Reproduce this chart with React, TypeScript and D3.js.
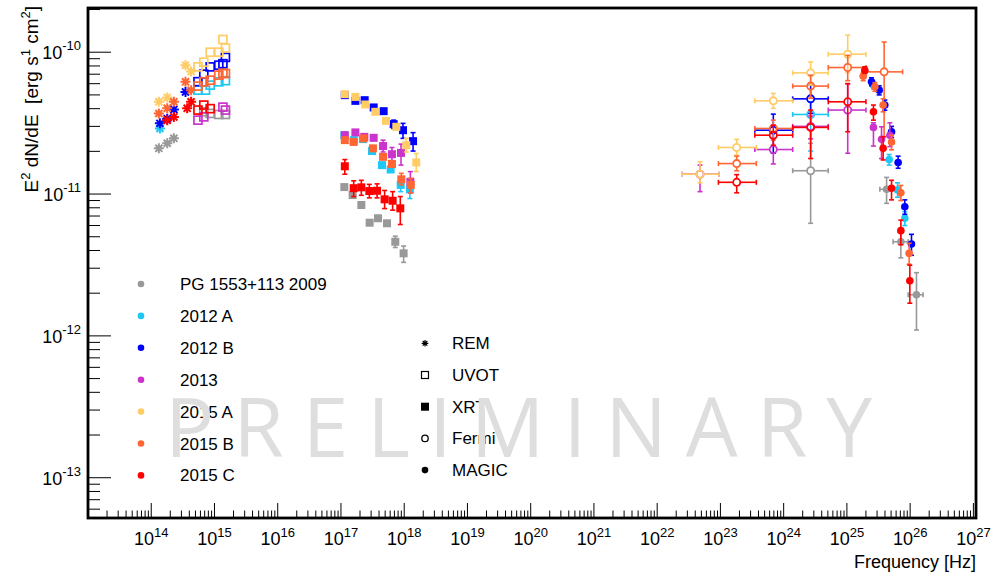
import React from "react";
import * as d3 from "d3";

// ---------- legend / series ----------
const seriesNames = ["PG 1553+113 2009", "2012 A", "2012 B", "2013", "2015 A", "2015 B", "2015 C"];
const seriesColors = ["#999999", "#1ec8f5", "#0000ff", "#cc33cc", "#ffcc66", "#ff6633", "#ff0000"];
const instrumentNames = ["REM", "UVOT", "XRT", "Fermi", "MAGIC"];

// ---------- axes ----------
const xDomain = [1e13, 1.1e27];
const yDomain = [5.2e-14, 2.05e-10];
const xMajorExps = [14, 15, 16, 17, 18, 19, 20, 21, 22, 23, 24, 25, 26, 27];
const yMajorExps = [-10, -11, -12, -13];
const xTitle = "Frequency [Hz]";
const watermarkText = "PRELIMINARY";

// ---------- data ----------
// REM: [series, frequency Hz, E2dN/dE]
const remPoints = [
  [0, 1.32e14, 2.1e-11], [0, 1.79e14, 2.28e-11], [0, 2.28e14, 2.47e-11],
  [1, 1.37e14, 2.9e-11],
  [2, 1.37e14, 3.15e-11], [2, 1.79e14, 3.4e-11], [2, 2.28e14, 3.95e-11], [2, 3.48e14, 5.25e-11],
  [4, 1.32e14, 4.47e-11], [4, 1.79e14, 4.8e-11], [4, 3.48e14, 8.1e-11], [4, 4.27e14, 7.3e-11],
  [5, 1.32e14, 3.7e-11], [5, 1.79e14, 4.02e-11], [5, 2.28e14, 4.47e-11], [5, 3.48e14, 6.18e-11], [5, 4.27e14, 5.4e-11],
  [6, 1.79e14, 3.32e-11], [6, 2.28e14, 3.5e-11], [6, 3.7e14, 4.02e-11], [6, 4.27e14, 4.47e-11],
];

// UVOT: [series, frequency, flux]
const uvotPoints = [
  [0, 6.78e14, 3.8e-11], [0, 8.55e14, 3.7e-11], [0, 1.17e15, 3.64e-11], [0, 1.49e15, 3.64e-11],
  [1, 5.48e14, 5.4e-11], [1, 7.21e14, 5.4e-11], [1, 8.55e14, 5.86e-11], [1, 1.17e15, 6.18e-11], [1, 1.49e15, 6.3e-11],
  [2, 5.48e14, 6.2e-11], [2, 6.78e14, 7.0e-11], [2, 8.55e14, 7.88e-11], [2, 1.17e15, 8.1e-11], [2, 1.36e15, 8.3e-11], [2, 1.49e15, 9.2e-11],
  [3, 5.48e14, 3.32e-11], [3, 6.78e14, 3.5e-11], [3, 1.36e15, 4.1e-11], [3, 1.49e15, 3.91e-11],
  [4, 5.48e14, 7.88e-11], [4, 6.78e14, 8.51e-11], [4, 8.55e14, 1.0e-10], [4, 1.17e15, 1.0e-10], [4, 1.36e15, 1.23e-10], [4, 1.49e15, 1.07e-10],
  [5, 5.48e14, 5.77e-11], [5, 6.78e14, 6.18e-11], [5, 8.55e14, 6.35e-11], [5, 1.17e15, 6.89e-11], [5, 1.36e15, 7.1e-11], [5, 1.49e15, 7.08e-11],
  [6, 5.48e14, 3.91e-11], [6, 6.78e14, 4.24e-11], [6, 8.55e14, 4.0e-11],
];

// XRT: [series, frequency, flux, low, high] (0 = no bar)
const xrtPoints = [
  [0, 1.13e17, 1.12e-11, 0, 0], [0, 1.53e17, 9.84e-12, 0, 0], [0, 2.1e17, 8.37e-12, 0, 0], [0, 2.84e17, 6.28e-12, 0, 0],
  [0, 3.85e17, 6.75e-12, 0, 0], [0, 5.35e17, 6.22e-12, 0, 0], [0, 7.23e17, 4.61e-12, 4.2e-12, 5.05e-12], [0, 9.79e17, 3.82e-12, 3.3e-12, 4.3e-12],
  [1, 1.13e17, 2.6e-11, 0, 0], [1, 1.59e17, 2.4e-11, 0, 0], [1, 2.22e17, 2.44e-11, 0, 0], [1, 3.1e17, 2.01e-11, 0, 0],
  [1, 4.45e17, 1.6e-11, 0, 0], [1, 6.1e17, 1.49e-11, 0, 0], [1, 8.8e17, 1.16e-11, 1.04e-11, 1.29e-11], [1, 1.23e18, 1.08e-11, 0.93e-11, 1.19e-11],
  [2, 1.15e17, 4.98e-11, 0, 0], [2, 1.69e17, 4.54e-11, 0, 0], [2, 2.37e17, 4.59e-11, 0, 0], [2, 3.29e17, 4.08e-11, 0, 0],
  [2, 4.73e17, 3.84e-11, 0, 0], [2, 6.81e17, 3.11e-11, 2.9e-11, 3.32e-11], [2, 9.57e17, 2.82e-11, 2.47e-11, 3.15e-11], [2, 1.38e18, 2.36e-11, 2.01e-11, 2.71e-11],
  [3, 1.15e17, 2.6e-11, 0, 0], [3, 1.69e17, 2.72e-11, 0, 0], [3, 2.34e17, 2.53e-11, 0, 0], [3, 3.29e17, 2.49e-11, 0, 0],
  [3, 4.63e17, 2.18e-11, 1.98e-11, 2.4e-11], [3, 6.4e17, 1.91e-11, 1.72e-11, 2.13e-11], [3, 8.9e17, 1.95e-11, 1.6e-11, 2.25e-11], [3, 1.25e18, 1.22e-11, 1.02e-11, 1.44e-11],
  [4, 1.15e17, 5.06e-11, 0, 0], [4, 1.69e17, 4.84e-11, 0, 0], [4, 2.43e17, 4.28e-11, 0, 0], [4, 3.49e17, 3.8e-11, 0, 0],
  [4, 5.15e17, 3.28e-11, 0, 0], [4, 7.5e17, 2.98e-11, 0, 0], [4, 1.08e18, 2.21e-11, 1.98e-11, 2.47e-11], [4, 1.55e18, 1.67e-11, 1.44e-11, 1.93e-11],
  [5, 1.15e17, 2.4e-11, 0, 0], [5, 1.59e17, 2.33e-11, 0, 0], [5, 2.28e17, 2.47e-11, 0, 0], [5, 3.2e17, 2.1e-11, 0, 0],
  [5, 4.63e17, 1.83e-11, 0, 0], [5, 6.4e17, 1.63e-11, 0, 0], [5, 9.0e17, 1.27e-11, 1.16e-11, 1.4e-11], [5, 1.27e18, 1.16e-11, 1.02e-11, 1.29e-11],
  [6, 1.15e17, 1.57e-11, 1.38e-11, 1.75e-11], [6, 1.59e17, 1.1e-11, 0.96e-11, 1.24e-11], [6, 2.1e17, 1.115e-11, 0.98e-11, 1.25e-11], [6, 2.81e17, 1.05e-11, 0.94e-11, 1.17e-11],
  [6, 3.72e17, 1.055e-11, 0.94e-11, 1.18e-11], [6, 4.9e17, 9.18e-12, 7.9e-12, 1.06e-11], [6, 6.56e17, 8.97e-12, 7.7e-12, 1.04e-11], [6, 8.67e17, 7.93e-12, 6.1e-12, 9.6e-12],
];

// Fermi: [series, fLow, f, fHigh, flux, low, high]
const fermiPoints = [
  [0, 1.39e24, 2.67e24, 5.07e24, 1.46e-11, 6.22e-12, 2.28e-11],
  [1, 1.39e24, 2.67e24, 5.07e24, 3.64e-11, 2.01e-11, 4.47e-11],
  [2, 3.5e23, 6.86e23, 1.39e24, 2.82e-11, 1.94e-11, 3.66e-11],
  [2, 1.39e24, 2.67e24, 5.07e24, 4.69e-11, 3.7e-11, 5.86e-11],
  [3, 2.45e22, 4.76e22, 9.5e22, 1.38e-11, 1.04e-11, 1.6e-11],
  [3, 3.5e23, 6.86e23, 1.39e24, 2.06e-11, 1.63e-11, 2.47e-11],
  [3, 1.39e24, 2.67e24, 5.07e24, 3.0e-11, 2.45e-11, 3.55e-11],
  [3, 5.07e24, 1.03e25, 2.0e25, 3.91e-11, 1.94e-11, 6.0e-11],
  [4, 2.45e22, 4.76e22, 9.5e22, 1.38e-11, 1.2e-11, 1.69e-11],
  [4, 9.3e22, 1.81e23, 3.7e23, 2.13e-11, 1.88e-11, 2.43e-11],
  [4, 3.5e23, 6.86e23, 1.39e24, 4.54e-11, 4.02e-11, 5.12e-11],
  [4, 1.39e24, 2.67e24, 5.07e24, 7.15e-11, 5.86e-11, 8.54e-11],
  [4, 5.07e24, 1.03e25, 2.0e25, 9.68e-11, 7.2e-11, 1.32e-10],
  [5, 9.3e22, 1.81e23, 3.7e23, 1.64e-11, 1.46e-11, 1.85e-11],
  [5, 3.5e23, 6.86e23, 1.39e24, 2.9e-11, 2.4e-11, 3.32e-11],
  [5, 1.39e24, 2.67e24, 5.07e24, 5.77e-11, 4.74e-11, 6.89e-11],
  [5, 5.07e24, 1.03e25, 2.0e25, 7.8e-11, 6.3e-11, 9.5e-11],
  [5, 2.05e25, 3.88e25, 7.6e25, 7.27e-11, 2.54e-11, 1.18e-10],
  [6, 9.3e22, 1.81e23, 3.7e23, 1.21e-11, 1.02e-11, 1.37e-11],
  [6, 3.5e23, 6.86e23, 1.39e24, 2.6e-11, 2.21e-11, 3.06e-11],
  [6, 1.39e24, 2.67e24, 5.07e24, 2.95e-11, 1.78e-11, 3.91e-11],
  [6, 5.07e24, 1.03e25, 2.0e25, 4.47e-11, 2.75e-11, 6.0e-11],
];

// MAGIC: [series, f, flux, low, high, fLow, fHigh] (0 = no x bar)
const magicPoints = [
  [0, 4.24e25, 1.08e-11, 8.6e-12, 1.31e-11, 3.32e25, 5.08e25],
  [0, 7.13e25, 4.61e-12, 3.55e-12, 5.33e-12, 5.38e25, 9.3e25],
  [0, 1.26e26, 1.95e-12, 1.1e-12, 2.79e-12, 9.3e25, 1.6e26],
  [1, 2.63e25, 5.86e-11, 5.5e-11, 6.2e-11, 0, 0],
  [1, 4.66e25, 1.75e-11, 1.6e-11, 1.9e-11, 0, 0],
  [1, 6.32e25, 1.07e-11, 0.95e-11, 1.2e-11, 0, 0],
  [1, 8.24e25, 6.75e-12, 6.0e-12, 7.5e-12, 0, 0],
  [2, 2.45e25, 6.18e-11, 5.8e-11, 6.6e-11, 0, 0],
  [2, 3.24e25, 5.4e-11, 5.0e-11, 5.8e-11, 0, 0],
  [2, 3.98e25, 4.24e-11, 3.9e-11, 4.6e-11, 0, 0],
  [2, 5.08e25, 2.75e-11, 2.5e-11, 3.0e-11, 0, 0],
  [2, 6.46e25, 1.67e-11, 1.52e-11, 1.85e-11, 0, 0],
  [2, 8.24e25, 8.14e-12, 7.2e-12, 9.1e-12, 0, 0],
  [2, 1.05e26, 4.45e-12, 3.7e-12, 5.2e-12, 0, 0],
  [3, 2.63e25, 2.95e-11, 2.18e-11, 3.18e-11, 0, 0],
  [3, 3.53e25, 2.43e-11, 1.78e-11, 2.98e-11, 0, 0],
  [3, 4.78e25, 2.6e-11, 2.16e-11, 3.18e-11, 0, 0],
  [5, 1.81e25, 6.78e-11, 6.3e-11, 7.2e-11, 0, 0],
  [5, 2.77e25, 5.7e-11, 5.3e-11, 6.1e-11, 0, 0],
  [5, 3.74e25, 4.24e-11, 3.8e-11, 4.7e-11, 0, 0],
  [5, 5.08e25, 2.33e-11, 2.05e-11, 2.6e-11, 0, 0],
  [5, 7.13e25, 1.02e-11, 0.9e-11, 1.15e-11, 0, 0],
  [5, 9.64e25, 3.82e-12, 3.2e-12, 4.5e-12, 0, 0],
  [6, 1.92e25, 7.47e-11, 7.1e-11, 7.9e-11, 0, 0],
  [6, 2.63e25, 3.8e-11, 3.32e-11, 4.24e-11, 0, 0],
  [6, 3.74e25, 2.1e-11, 1.74e-11, 2.53e-11, 0, 0],
  [6, 5.08e25, 1.1e-11, 0.91e-11, 1.25e-11, 0, 0],
  [6, 7.13e25, 5.52e-12, 4.39e-12, 6.55e-12, 0, 0],
  [6, 9.89e25, 2.45e-12, 1.7e-12, 3.15e-12, 0, 0],
];

const FONT = "'Liberation Sans', Arial, Helvetica, sans-serif";

function starPath(cx: number, cy: number, r: number) {
  const d = r * 0.707;
  return `M${cx - r},${cy}H${cx + r}M${cx},${cy - r}V${cy + r}M${cx - d},${cy - d}L${cx + d},${cy + d}M${cx - d},${cy + d}L${cx + d},${cy - d}`;
}

// vertical error bar with gap for marker and caps
function vBar(key: string, px: number, py: number, yLo: number, yHi: number, gap: number, color: string) {
  const out: any[] = [];
  const cap = 2.5;
  if (yLo > py + gap) {
    out.push(<line key={key + "vl"} x1={px} x2={px} y1={py + gap} y2={yLo} stroke={color} strokeWidth={1.6} />);
    out.push(<line key={key + "vlc"} x1={px - cap} x2={px + cap} y1={yLo} y2={yLo} stroke={color} strokeWidth={1.6} />);
  }
  if (yHi < py - gap) {
    out.push(<line key={key + "vh"} x1={px} x2={px} y1={py - gap} y2={yHi} stroke={color} strokeWidth={1.6} />);
    out.push(<line key={key + "vhc"} x1={px - cap} x2={px + cap} y1={yHi} y2={yHi} stroke={color} strokeWidth={1.6} />);
  }
  return out;
}
function hBar(key: string, px: number, py: number, xLo: number, xHi: number, gap: number, color: string) {
  const out: any[] = [];
  const cap = 2.5;
  if (xLo < px - gap) {
    out.push(<line key={key + "hl"} x1={px - gap} x2={xLo} y1={py} y2={py} stroke={color} strokeWidth={1.6} />);
    out.push(<line key={key + "hlc"} x1={xLo} x2={xLo} y1={py - cap} y2={py + cap} stroke={color} strokeWidth={1.6} />);
  }
  if (xHi > px + gap) {
    out.push(<line key={key + "hh"} x1={px + gap} x2={xHi} y1={py} y2={py} stroke={color} strokeWidth={1.6} />);
    out.push(<line key={key + "hhc"} x1={xHi} x2={xHi} y1={py - cap} y2={py + cap} stroke={color} strokeWidth={1.6} />);
  }
  return out;
}

export default function App() {
  const L = 88, R = 976, T = 8, B = 518;
  const x = d3.scaleLog().domain(xDomain).range([L, R]);
  const y = d3.scaleLog().domain(yDomain).range([B, T]);

  const xMinor: number[] = [];
  for (let e = 13; e < 27; e++) for (let k = 2; k <= 9; k++) {
    const v = k * Math.pow(10, e);
    if (v > xDomain[0] && v < xDomain[1]) xMinor.push(v);
  }
  const yMinor: number[] = [];
  for (let e = -14; e < -9; e++) for (let k = 2; k <= 9; k++) {
    const v = k * Math.pow(10, e);
    if (v > yDomain[0] && v < yDomain[1]) yMinor.push(v);
  }

  const bySeries = (a: any[], b: any[]) => a[0] - b[0];

  const remEls = [...remPoints].sort(bySeries).map((p, i) => (
    <path key={"rem" + i} d={starPath(x(p[1]), y(p[2]), 5)} stroke={seriesColors[p[0]]} strokeWidth={2} fill="none" />
  ));

  const uvotEls = [...uvotPoints].sort(bySeries).map((p, i) => (
    <rect key={"uv" + i} x={x(p[1]) - 4} y={y(p[2]) - 4} width={8} height={8} fill="none" stroke={seriesColors[p[0]]} strokeWidth={1.7} />
  ));

  const xrtEls: any[] = [];
  [...xrtPoints].sort(bySeries).forEach((p, i) => {
    const c = seriesColors[p[0]];
    const px = x(p[1]), py = y(p[2]);
    if (p[3] && p[4]) xrtEls.push(...vBar("x" + i, px, py, y(p[3]), y(p[4]), 0, c));
    xrtEls.push(<rect key={"xr" + i} x={px - 4} y={py - 4} width={8} height={8} fill={c} />);
  });

  const fermiEls: any[] = [];
  [...fermiPoints].sort(bySeries).forEach((p, i) => {
    const c = seriesColors[p[0]];
    const px = x(p[2]), py = y(p[4]);
    fermiEls.push(...hBar("f" + i, px, py, x(p[1]), x(p[3]), 4, c));
    fermiEls.push(...vBar("f" + i, px, py, y(p[5]), y(p[6]), 4, c));
    fermiEls.push(<circle key={"fc" + i} cx={px} cy={py} r={3.6} fill="none" stroke={c} strokeWidth={1.8} />);
  });

  const magicEls: any[] = [];
  [...magicPoints].sort(bySeries).forEach((p, i) => {
    const c = seriesColors[p[0]];
    const px = x(p[1]), py = y(p[2]);
    if (p[5] && p[6]) magicEls.push(...hBar("m" + i, px, py, x(p[5]), x(p[6]), 0, c));
    magicEls.push(...vBar("m" + i, px, py, y(p[3]), y(p[4]), 0, c));
    magicEls.push(<circle key={"mc" + i} cx={px} cy={py} r={3.8} fill={c} />);
  });

  const leg1Y0 = 284, leg1Dy = 31.9;
  const leg2Y0 = 343.3, leg2Dy = 31.7;
  const lx2 = 425;

  const legendMarker = (idx: number, cy: number) => {
    const c = "#000";
    if (idx === 0) return <path d={starPath(lx2, cy, 3.3)} stroke={c} strokeWidth={1.2} fill="none" />;
    if (idx === 1) return <rect x={lx2 - 3.5} y={cy - 3.5} width={7} height={7} fill="none" stroke={c} strokeWidth={1.2} />;
    if (idx === 2) return <rect x={lx2 - 4} y={cy - 4} width={8} height={8} fill={c} />;
    if (idx === 3) return <circle cx={lx2} cy={cy} r={3.2} fill="none" stroke={c} strokeWidth={1.3} />;
    return <circle cx={lx2} cy={cy} r={3.3} fill={c} />;
  };

  return (
    <svg width={1000} height={574} style={{ position: "absolute", left: 0, top: 0, background: "#fff" }} fontFamily={FONT}>
      <rect x={0} y={0} width={1000} height={574} fill="#fff" />

      {/* ticks */}
      {xMajorExps.map((e) => (
        <line key={"xM" + e} x1={x(Math.pow(10, e))} x2={x(Math.pow(10, e))} y1={B} y2={B - 15} stroke="#000" strokeWidth={1} />
      ))}
      {xMinor.map((v, i) => (
        <line key={"xm" + i} x1={x(v)} x2={x(v)} y1={B} y2={B - 7.5} stroke="#000" strokeWidth={1} />
      ))}
      {yMajorExps.map((e) => (
        <line key={"yM" + e} x1={L} x2={L + 23} y1={y(Math.pow(10, e))} y2={y(Math.pow(10, e))} stroke="#000" strokeWidth={1} />
      ))}
      {yMinor.map((v, i) => (
        <line key={"ym" + i} x1={L} x2={L + 12} y1={y(v)} y2={y(v)} stroke="#000" strokeWidth={1} />
      ))}

      {/* tick labels */}
      {xMajorExps.map((e) => (
        <text key={"xl" + e} x={x(Math.pow(10, e))} y={545} textAnchor="middle" fontSize={18} fill="#000">
          10<tspan dy={-8} fontSize={13}>{e}</tspan>
        </text>
      ))}
      {yMajorExps.map((e) => (
        <text key={"yl" + e} x={81} y={y(Math.pow(10, e)) + 7} textAnchor="end" fontSize={18} fill="#000">
          10<tspan dy={-9} fontSize={13}>{e}</tspan>
        </text>
      ))}

      {/* axis titles */}
      <text x={976} y={568} textAnchor="end" fontSize={18} fill="#000">{xTitle}</text>
      <text transform="translate(38,6) rotate(-90)" textAnchor="end" fontSize={19} fill="#000" style={{ whiteSpace: "pre" }}>
        E<tspan dy={-8} fontSize={13}>2</tspan><tspan dy={8}> dN/dE  [erg s</tspan><tspan dy={-8} fontSize={13}>1</tspan><tspan dy={8}> cm</tspan><tspan dy={-8} fontSize={13}>2</tspan><tspan dy={8}>]</tspan>
      </text>

      {/* data */}
      <g>{remEls}</g>
      <g>{uvotEls}</g>
      <g>{xrtEls}</g>
      <g>{fermiEls}</g>
      <g>{magicEls}</g>

      {/* legends */}
      {seriesNames.map((n, i) => (
        <g key={"lg" + i}>
          <circle cx={141} cy={leg1Y0 + i * leg1Dy} r={3.3} fill={seriesColors[i]} />
          <text x={180} y={leg1Y0 + i * leg1Dy + 6} fontSize={17} fill="#000">{n}</text>
        </g>
      ))}
      {instrumentNames.map((n, i) => (
        <g key={"li" + i}>
          {legendMarker(i, leg2Y0 + i * leg2Dy)}
          <text x={452} y={leg2Y0 + i * leg2Dy + 6} fontSize={17} fill="#000">{n}</text>
        </g>
      ))}

      {/* watermark */}
      <text x={165} y={457} fontFamily="'Open Sans', 'Noto Sans', sans-serif" fontSize={82} fill="#dedede" textLength={707} lengthAdjust="spacing">{watermarkText}</text>

      {/* frame */}
      <rect x={L} y={T} width={R - L} height={B - T} fill="none" stroke="#000" strokeWidth={2.8} />
    </svg>
  );
}
